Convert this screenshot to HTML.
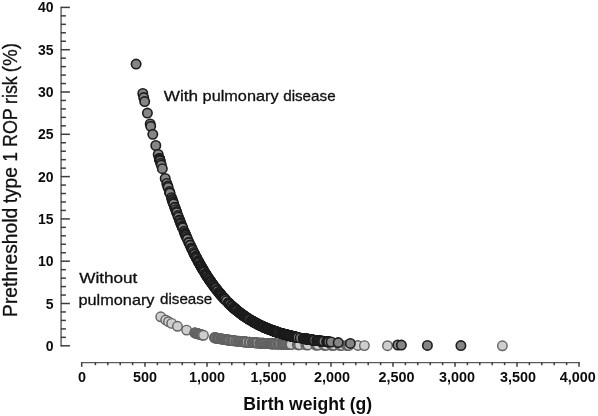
<!DOCTYPE html>
<html><head><meta charset="utf-8"><title>chart</title>
<style>
html,body{margin:0;padding:0;background:#fff;}
body{width:598px;height:416px;overflow:hidden;font-family:"Liberation Sans",sans-serif;}
svg{display:block;will-change:transform;}
text{opacity:.999;}
.ax line{stroke:#3c3c3c;stroke-width:1.5;}
.ax line.m{stroke:#5a5a5a;stroke-width:1.4;}
.tk{font:bold 14.4px "Liberation Sans",sans-serif;fill:#0c0c0c;}
.ty{font-size:14px;}
.w{fill:#858585;stroke:#1c1c1c;stroke-width:1.6;}
.o{fill:#cecece;stroke:#626262;stroke-width:1.4;}
.an{font:15px "Liberation Sans",sans-serif;fill:#101010;stroke:#101010;stroke-width:.3;}
.yt{font:20px "Liberation Sans",sans-serif;fill:#101010;stroke:#101010;stroke-width:.3;}
.xt{font:bold 17.5px "Liberation Sans",sans-serif;fill:#0c0c0c;}
</style></head><body>
<svg width="598" height="416" viewBox="0 0 598 416">
<rect width="598" height="416" fill="#fff"/>
<g class="ax">
<line class="m" x1="61.1" y1="6.7" x2="61.1" y2="346.5"/>
<line x1="60.8" y1="345.80" x2="69.9" y2="345.80"/>
<line x1="60.8" y1="337.34" x2="65.9" y2="337.34"/>
<line x1="60.8" y1="328.88" x2="65.9" y2="328.88"/>
<line x1="60.8" y1="320.42" x2="65.9" y2="320.42"/>
<line x1="60.8" y1="311.96" x2="65.9" y2="311.96"/>
<line x1="60.8" y1="303.50" x2="69.9" y2="303.50"/>
<line x1="60.8" y1="295.04" x2="65.9" y2="295.04"/>
<line x1="60.8" y1="286.58" x2="65.9" y2="286.58"/>
<line x1="60.8" y1="278.12" x2="65.9" y2="278.12"/>
<line x1="60.8" y1="269.66" x2="65.9" y2="269.66"/>
<line x1="60.8" y1="261.20" x2="69.9" y2="261.20"/>
<line x1="60.8" y1="252.74" x2="65.9" y2="252.74"/>
<line x1="60.8" y1="244.28" x2="65.9" y2="244.28"/>
<line x1="60.8" y1="235.82" x2="65.9" y2="235.82"/>
<line x1="60.8" y1="227.36" x2="65.9" y2="227.36"/>
<line x1="60.8" y1="218.90" x2="69.9" y2="218.90"/>
<line x1="60.8" y1="210.44" x2="65.9" y2="210.44"/>
<line x1="60.8" y1="201.98" x2="65.9" y2="201.98"/>
<line x1="60.8" y1="193.52" x2="65.9" y2="193.52"/>
<line x1="60.8" y1="185.06" x2="65.9" y2="185.06"/>
<line x1="60.8" y1="176.60" x2="69.9" y2="176.60"/>
<line x1="60.8" y1="168.14" x2="65.9" y2="168.14"/>
<line x1="60.8" y1="159.68" x2="65.9" y2="159.68"/>
<line x1="60.8" y1="151.22" x2="65.9" y2="151.22"/>
<line x1="60.8" y1="142.76" x2="65.9" y2="142.76"/>
<line x1="60.8" y1="134.30" x2="69.9" y2="134.30"/>
<line x1="60.8" y1="125.84" x2="65.9" y2="125.84"/>
<line x1="60.8" y1="117.38" x2="65.9" y2="117.38"/>
<line x1="60.8" y1="108.92" x2="65.9" y2="108.92"/>
<line x1="60.8" y1="100.46" x2="65.9" y2="100.46"/>
<line x1="60.8" y1="92.00" x2="69.9" y2="92.00"/>
<line x1="60.8" y1="83.54" x2="65.9" y2="83.54"/>
<line x1="60.8" y1="75.08" x2="65.9" y2="75.08"/>
<line x1="60.8" y1="66.62" x2="65.9" y2="66.62"/>
<line x1="60.8" y1="58.16" x2="65.9" y2="58.16"/>
<line x1="60.8" y1="49.70" x2="69.9" y2="49.70"/>
<line x1="60.8" y1="41.24" x2="65.9" y2="41.24"/>
<line x1="60.8" y1="32.78" x2="65.9" y2="32.78"/>
<line x1="60.8" y1="24.32" x2="65.9" y2="24.32"/>
<line x1="60.8" y1="15.86" x2="65.9" y2="15.86"/>
<line x1="60.8" y1="7.40" x2="69.9" y2="7.40"/>
<line class="m" x1="81.0" y1="362.6" x2="579.7" y2="362.6"/>
<line x1="81.70" y1="362.3" x2="81.70" y2="366.8"/>
<line x1="95.40" y1="362.3" x2="95.40" y2="365.2"/>
<line x1="107.80" y1="362.3" x2="107.80" y2="365.2"/>
<line x1="120.20" y1="362.3" x2="120.20" y2="365.2"/>
<line x1="132.60" y1="362.3" x2="132.60" y2="365.2"/>
<line x1="145.00" y1="362.3" x2="145.00" y2="366.8"/>
<line x1="157.40" y1="362.3" x2="157.40" y2="365.2"/>
<line x1="169.80" y1="362.3" x2="169.80" y2="365.2"/>
<line x1="182.20" y1="362.3" x2="182.20" y2="365.2"/>
<line x1="194.60" y1="362.3" x2="194.60" y2="365.2"/>
<line x1="207.00" y1="362.3" x2="207.00" y2="366.8"/>
<line x1="219.40" y1="362.3" x2="219.40" y2="365.2"/>
<line x1="231.80" y1="362.3" x2="231.80" y2="365.2"/>
<line x1="244.20" y1="362.3" x2="244.20" y2="365.2"/>
<line x1="256.60" y1="362.3" x2="256.60" y2="365.2"/>
<line x1="269.00" y1="362.3" x2="269.00" y2="366.8"/>
<line x1="281.40" y1="362.3" x2="281.40" y2="365.2"/>
<line x1="293.80" y1="362.3" x2="293.80" y2="365.2"/>
<line x1="306.20" y1="362.3" x2="306.20" y2="365.2"/>
<line x1="318.60" y1="362.3" x2="318.60" y2="365.2"/>
<line x1="331.00" y1="362.3" x2="331.00" y2="366.8"/>
<line x1="343.40" y1="362.3" x2="343.40" y2="365.2"/>
<line x1="355.80" y1="362.3" x2="355.80" y2="365.2"/>
<line x1="368.20" y1="362.3" x2="368.20" y2="365.2"/>
<line x1="380.60" y1="362.3" x2="380.60" y2="365.2"/>
<line x1="393.00" y1="362.3" x2="393.00" y2="366.8"/>
<line x1="405.40" y1="362.3" x2="405.40" y2="365.2"/>
<line x1="417.80" y1="362.3" x2="417.80" y2="365.2"/>
<line x1="430.20" y1="362.3" x2="430.20" y2="365.2"/>
<line x1="442.60" y1="362.3" x2="442.60" y2="365.2"/>
<line x1="455.00" y1="362.3" x2="455.00" y2="366.8"/>
<line x1="467.40" y1="362.3" x2="467.40" y2="365.2"/>
<line x1="479.80" y1="362.3" x2="479.80" y2="365.2"/>
<line x1="492.20" y1="362.3" x2="492.20" y2="365.2"/>
<line x1="504.60" y1="362.3" x2="504.60" y2="365.2"/>
<line x1="517.00" y1="362.3" x2="517.00" y2="366.8"/>
<line x1="529.40" y1="362.3" x2="529.40" y2="365.2"/>
<line x1="541.80" y1="362.3" x2="541.80" y2="365.2"/>
<line x1="554.20" y1="362.3" x2="554.20" y2="365.2"/>
<line x1="566.60" y1="362.3" x2="566.60" y2="365.2"/>
<line x1="579.00" y1="362.3" x2="579.00" y2="366.8"/>
</g>
<g>
<circle class="o" r="4.75" cx="160.7" cy="316.8"/>
<circle class="o" r="4.75" cx="165.7" cy="320.0"/>
<circle class="o" r="4.75" cx="168.5" cy="321.7"/>
<circle class="o" r="4.75" cx="171.7" cy="323.4"/>
<circle class="o" r="4.75" cx="177.5" cy="326.3"/>
<circle class="o" r="4.75" cx="186.6" cy="330.1"/>
<circle class="o" r="4.75" cx="194.7" cy="332.8"/>
<circle class="o" r="4.75" cx="195.1" cy="333.0"/>
<circle class="o" r="4.75" cx="195.7" cy="333.1"/>
<circle class="o" r="4.75" cx="196.5" cy="333.4"/>
<circle class="o" r="4.75" cx="197.1" cy="333.5"/>
<circle class="o" r="4.75" cx="197.6" cy="333.7"/>
<circle class="o" r="4.75" cx="198.3" cy="333.9"/>
<circle class="o" r="4.75" cx="198.8" cy="334.0"/>
<circle class="o" r="4.75" cx="199.5" cy="334.2"/>
<circle class="o" r="4.75" cx="199.8" cy="334.3"/>
<circle class="o" r="4.75" cx="200.6" cy="334.5"/>
<circle class="o" r="4.75" cx="201.2" cy="334.7"/>
<circle class="o" r="4.75" cx="201.8" cy="334.9"/>
<circle class="o" r="4.75" cx="202.2" cy="335.0"/>
<circle class="o" r="4.75" cx="203.5" cy="335.3"/>
<circle class="o" r="4.75" cx="214.6" cy="337.7"/>
<circle class="o" r="4.75" cx="214.8" cy="337.8"/>
<circle class="o" r="4.75" cx="214.9" cy="337.8"/>
<circle class="o" r="4.75" cx="215.0" cy="337.8"/>
<circle class="o" r="4.75" cx="215.2" cy="337.8"/>
<circle class="o" r="4.75" cx="215.5" cy="337.9"/>
<circle class="o" r="4.75" cx="216.7" cy="338.1"/>
<circle class="o" r="4.75" cx="217.1" cy="338.2"/>
<circle class="o" r="4.75" cx="217.3" cy="338.2"/>
<circle class="o" r="4.75" cx="217.7" cy="338.3"/>
<circle class="o" r="4.75" cx="218.3" cy="338.4"/>
<circle class="o" r="4.75" cx="218.6" cy="338.5"/>
<circle class="o" r="4.75" cx="219.2" cy="338.6"/>
<circle class="o" r="4.75" cx="219.2" cy="338.6"/>
<circle class="o" r="4.75" cx="219.7" cy="338.7"/>
<circle class="o" r="4.75" cx="221.1" cy="338.9"/>
<circle class="o" r="4.75" cx="221.3" cy="338.9"/>
<circle class="o" r="4.75" cx="221.4" cy="338.9"/>
<circle class="o" r="4.75" cx="222.0" cy="339.0"/>
<circle class="o" r="4.75" cx="222.7" cy="339.2"/>
<circle class="o" r="4.75" cx="223.5" cy="339.3"/>
<circle class="o" r="4.75" cx="224.1" cy="339.4"/>
<circle class="o" r="4.75" cx="225.1" cy="339.5"/>
<circle class="o" r="4.75" cx="225.9" cy="339.6"/>
<circle class="o" r="4.75" cx="226.1" cy="339.7"/>
<circle class="o" r="4.75" cx="226.5" cy="339.7"/>
<circle class="o" r="4.75" cx="226.8" cy="339.8"/>
<circle class="o" r="4.75" cx="227.8" cy="339.9"/>
<circle class="o" r="4.75" cx="228.0" cy="340.0"/>
<circle class="o" r="4.75" cx="228.4" cy="340.0"/>
<circle class="o" r="4.75" cx="228.9" cy="340.1"/>
<circle class="o" r="4.75" cx="228.9" cy="340.1"/>
<circle class="o" r="4.75" cx="229.3" cy="340.1"/>
<circle class="o" r="4.75" cx="229.5" cy="340.2"/>
<circle class="o" r="4.75" cx="230.6" cy="340.3"/>
<circle class="o" r="4.75" cx="231.7" cy="340.5"/>
<circle class="o" r="4.75" cx="232.3" cy="340.5"/>
<circle class="o" r="4.75" cx="232.7" cy="340.6"/>
<circle class="o" r="4.75" cx="233.2" cy="340.6"/>
<circle class="o" r="4.75" cx="233.6" cy="340.7"/>
<circle class="o" r="4.75" cx="233.7" cy="340.7"/>
<circle class="o" r="4.75" cx="233.8" cy="340.7"/>
<circle class="o" r="4.75" cx="235.7" cy="340.9"/>
<circle class="o" r="4.75" cx="235.9" cy="341.0"/>
<circle class="o" r="4.75" cx="236.7" cy="341.1"/>
<circle class="o" r="4.75" cx="238.1" cy="341.2"/>
<circle class="o" r="4.75" cx="239.0" cy="341.3"/>
<circle class="o" r="4.75" cx="239.9" cy="341.4"/>
<circle class="o" r="4.75" cx="240.2" cy="341.4"/>
<circle class="o" r="4.75" cx="241.3" cy="341.6"/>
<circle class="o" r="4.75" cx="242.0" cy="341.6"/>
<circle class="o" r="4.75" cx="242.8" cy="341.7"/>
<circle class="o" r="4.75" cx="243.9" cy="341.8"/>
<circle class="o" r="4.75" cx="243.9" cy="341.8"/>
<circle class="o" r="4.75" cx="244.8" cy="341.9"/>
<circle class="o" r="4.75" cx="244.9" cy="341.9"/>
<circle class="o" r="4.75" cx="245.0" cy="341.9"/>
<circle class="o" r="4.75" cx="245.1" cy="341.9"/>
<circle class="o" r="4.75" cx="245.1" cy="341.9"/>
<circle class="o" r="4.75" cx="245.1" cy="341.9"/>
<circle class="o" r="4.75" cx="246.3" cy="342.0"/>
<circle class="o" r="4.75" cx="246.4" cy="342.0"/>
<circle class="o" r="4.75" cx="247.0" cy="342.1"/>
<circle class="o" r="4.75" cx="248.9" cy="342.3"/>
<circle class="o" r="4.75" cx="249.5" cy="342.3"/>
<circle class="o" r="4.75" cx="249.9" cy="342.3"/>
<circle class="o" r="4.75" cx="250.0" cy="342.4"/>
<circle class="o" r="4.75" cx="250.2" cy="342.4"/>
<circle class="o" r="4.75" cx="252.1" cy="342.5"/>
<circle class="o" r="4.75" cx="252.6" cy="342.6"/>
<circle class="o" r="4.75" cx="252.7" cy="342.6"/>
<circle class="o" r="4.75" cx="252.8" cy="342.6"/>
<circle class="o" r="4.75" cx="253.0" cy="342.6"/>
<circle class="o" r="4.75" cx="253.4" cy="342.6"/>
<circle class="o" r="4.75" cx="253.6" cy="342.6"/>
<circle class="o" r="4.75" cx="253.6" cy="342.6"/>
<circle class="o" r="4.75" cx="254.5" cy="342.7"/>
<circle class="o" r="4.75" cx="255.0" cy="342.7"/>
<circle class="o" r="4.75" cx="256.3" cy="342.8"/>
<circle class="o" r="4.75" cx="256.4" cy="342.8"/>
<circle class="o" r="4.75" cx="257.1" cy="342.9"/>
<circle class="o" r="4.75" cx="257.7" cy="342.9"/>
<circle class="o" r="4.75" cx="257.7" cy="342.9"/>
<circle class="o" r="4.75" cx="257.8" cy="342.9"/>
<circle class="o" r="4.75" cx="259.9" cy="343.1"/>
<circle class="o" r="4.75" cx="260.0" cy="343.1"/>
<circle class="o" r="4.75" cx="260.1" cy="343.1"/>
<circle class="o" r="4.75" cx="260.2" cy="343.1"/>
<circle class="o" r="4.75" cx="261.0" cy="343.2"/>
<circle class="o" r="4.75" cx="261.3" cy="343.2"/>
<circle class="o" r="4.75" cx="262.0" cy="343.2"/>
<circle class="o" r="4.75" cx="262.4" cy="343.2"/>
<circle class="o" r="4.75" cx="263.1" cy="343.3"/>
<circle class="o" r="4.75" cx="263.1" cy="343.3"/>
<circle class="o" r="4.75" cx="263.4" cy="343.3"/>
<circle class="o" r="4.75" cx="264.4" cy="343.4"/>
<circle class="o" r="4.75" cx="264.8" cy="343.4"/>
<circle class="o" r="4.75" cx="265.2" cy="343.4"/>
<circle class="o" r="4.75" cx="266.5" cy="343.5"/>
<circle class="o" r="4.75" cx="266.7" cy="343.5"/>
<circle class="o" r="4.75" cx="266.8" cy="343.5"/>
<circle class="o" r="4.75" cx="267.5" cy="343.5"/>
<circle class="o" r="4.75" cx="267.9" cy="343.6"/>
<circle class="o" r="4.75" cx="268.0" cy="343.6"/>
<circle class="o" r="4.75" cx="268.2" cy="343.6"/>
<circle class="o" r="4.75" cx="269.1" cy="343.6"/>
<circle class="o" r="4.75" cx="269.6" cy="343.7"/>
<circle class="o" r="4.75" cx="269.9" cy="343.7"/>
<circle class="o" r="4.75" cx="270.9" cy="343.7"/>
<circle class="o" r="4.75" cx="270.9" cy="343.7"/>
<circle class="o" r="4.75" cx="271.3" cy="343.7"/>
<circle class="o" r="4.75" cx="272.1" cy="343.8"/>
<circle class="o" r="4.75" cx="272.4" cy="343.8"/>
<circle class="o" r="4.75" cx="272.4" cy="343.8"/>
<circle class="o" r="4.75" cx="272.6" cy="343.8"/>
<circle class="o" r="4.75" cx="272.9" cy="343.8"/>
<circle class="o" r="4.75" cx="272.9" cy="343.8"/>
<circle class="o" r="4.75" cx="273.1" cy="343.8"/>
<circle class="o" r="4.75" cx="273.9" cy="343.9"/>
<circle class="o" r="4.75" cx="274.8" cy="343.9"/>
<circle class="o" r="4.75" cx="275.7" cy="343.9"/>
<circle class="o" r="4.75" cx="276.0" cy="344.0"/>
<circle class="o" r="4.75" cx="276.3" cy="344.0"/>
<circle class="o" r="4.75" cx="276.7" cy="344.0"/>
<circle class="o" r="4.75" cx="278.1" cy="344.1"/>
<circle class="o" r="4.75" cx="278.7" cy="344.1"/>
<circle class="o" r="4.75" cx="279.0" cy="344.1"/>
<circle class="o" r="4.75" cx="280.3" cy="344.1"/>
<circle class="o" r="4.75" cx="281.8" cy="344.2"/>
<circle class="o" r="4.75" cx="282.3" cy="344.2"/>
<circle class="o" r="4.75" cx="282.8" cy="344.2"/>
<circle class="o" r="4.75" cx="283.0" cy="344.2"/>
<circle class="o" r="4.75" cx="283.1" cy="344.3"/>
<circle class="o" r="4.75" cx="283.7" cy="344.3"/>
<circle class="o" r="4.75" cx="284.2" cy="344.3"/>
<circle class="o" r="4.75" cx="284.2" cy="344.3"/>
<circle class="o" r="4.75" cx="285.1" cy="344.3"/>
<circle class="o" r="4.75" cx="285.4" cy="344.3"/>
<circle class="o" r="4.75" cx="285.6" cy="344.3"/>
<circle class="o" r="4.75" cx="286.8" cy="344.4"/>
<circle class="o" r="4.75" cx="286.8" cy="344.4"/>
<circle class="o" r="4.75" cx="287.3" cy="344.4"/>
<circle class="o" r="4.75" cx="288.5" cy="344.4"/>
<circle class="o" r="4.75" cx="288.6" cy="344.4"/>
<circle class="o" r="4.75" cx="289.5" cy="344.5"/>
<circle class="o" r="4.75" cx="289.7" cy="344.5"/>
<circle class="o" r="4.75" cx="290.3" cy="344.5"/>
<circle class="o" r="4.75" cx="290.7" cy="344.5"/>
<circle class="o" r="4.75" cx="290.9" cy="344.5"/>
<circle class="o" r="4.75" cx="291.0" cy="344.5"/>
<circle class="o" r="4.75" cx="291.0" cy="344.5"/>
<circle class="o" r="4.75" cx="297.3" cy="344.7"/>
<circle class="o" r="4.75" cx="298.4" cy="344.7"/>
<circle class="o" r="4.75" cx="299.5" cy="344.8"/>
<circle class="o" r="4.75" cx="305.8" cy="344.9"/>
<circle class="o" r="4.75" cx="306.9" cy="344.9"/>
<circle class="o" r="4.75" cx="308.0" cy="345.0"/>
<circle class="o" r="4.75" cx="315.8" cy="345.1"/>
<circle class="o" r="4.75" cx="316.9" cy="345.1"/>
<circle class="o" r="4.75" cx="318.0" cy="345.1"/>
<circle class="o" r="4.75" cx="323.8" cy="345.2"/>
<circle class="o" r="4.75" cx="324.9" cy="345.2"/>
<circle class="o" r="4.75" cx="326.0" cy="345.3"/>
<circle class="o" r="4.75" cx="331.8" cy="345.3"/>
<circle class="o" r="4.75" cx="332.9" cy="345.3"/>
<circle class="o" r="4.75" cx="334.0" cy="345.3"/>
<circle class="o" r="4.75" cx="339.8" cy="345.4"/>
<circle class="o" r="4.75" cx="340.9" cy="345.4"/>
<circle class="o" r="4.75" cx="342.0" cy="345.4"/>
<circle class="o" r="4.75" cx="346.8" cy="345.5"/>
<circle class="o" r="4.75" cx="347.9" cy="345.5"/>
<circle class="o" r="4.75" cx="349.0" cy="345.5"/>
<circle class="o" r="4.75" cx="357.9" cy="345.5"/>
<circle class="o" r="4.75" cx="364.4" cy="345.6"/>
<circle class="o" r="4.75" cx="387.5" cy="345.7"/>
<circle class="o" r="4.75" cx="502.4" cy="345.8"/>
<circle class="w" r="4.7" cx="136.1" cy="64.1"/>
<circle class="w" r="4.7" cx="142.8" cy="93.5"/>
<circle class="w" r="4.7" cx="143.7" cy="97.6"/>
<circle class="w" r="4.7" cx="144.7" cy="101.6"/>
<circle class="w" r="4.7" cx="147.4" cy="113.1"/>
<circle class="w" r="4.7" cx="150.2" cy="124.0"/>
<circle class="w" r="4.7" cx="150.7" cy="126.3"/>
<circle class="w" r="4.7" cx="152.8" cy="134.3"/>
<circle class="w" r="4.7" cx="155.8" cy="145.5"/>
<circle class="w" r="4.7" cx="158.2" cy="154.5"/>
<circle class="w" r="4.7" cx="159.3" cy="158.4"/>
<circle class="w" r="4.7" cx="159.4" cy="158.6"/>
<circle class="w" r="4.7" cx="159.6" cy="159.2"/>
<circle class="w" r="4.7" cx="159.6" cy="159.2"/>
<circle class="w" r="4.7" cx="159.8" cy="159.9"/>
<circle class="w" r="4.7" cx="159.9" cy="160.3"/>
<circle class="w" r="4.7" cx="160.1" cy="160.9"/>
<circle class="w" r="4.7" cx="160.7" cy="163.3"/>
<circle class="w" r="4.7" cx="161.3" cy="165.1"/>
<circle class="w" r="4.7" cx="162.3" cy="168.7"/>
<circle class="w" r="4.7" cx="165.2" cy="178.4"/>
<circle class="w" r="4.7" cx="166.8" cy="183.5"/>
<circle class="w" r="4.7" cx="167.7" cy="186.1"/>
<circle class="w" r="4.7" cx="168.1" cy="187.4"/>
<circle class="w" r="4.7" cx="169.4" cy="191.5"/>
<circle class="w" r="4.7" cx="169.9" cy="193.0"/>
<circle class="w" r="4.7" cx="169.9" cy="193.1"/>
<circle class="w" r="4.7" cx="171.5" cy="197.7"/>
<circle class="w" r="4.7" cx="172.1" cy="199.5"/>
<circle class="w" r="4.7" cx="172.4" cy="200.4"/>
<circle class="w" r="4.7" cx="173.0" cy="202.1"/>
<circle class="w" r="4.7" cx="173.1" cy="202.6"/>
<circle class="w" r="4.7" cx="173.6" cy="204.0"/>
<circle class="w" r="4.7" cx="174.8" cy="207.2"/>
<circle class="w" r="4.7" cx="174.9" cy="207.6"/>
<circle class="w" r="4.7" cx="175.7" cy="209.7"/>
<circle class="w" r="4.7" cx="176.4" cy="211.6"/>
<circle class="w" r="4.7" cx="176.8" cy="212.7"/>
<circle class="w" r="4.7" cx="177.8" cy="215.6"/>
<circle class="w" r="4.7" cx="178.4" cy="217.2"/>
<circle class="w" r="4.7" cx="179.5" cy="219.9"/>
<circle class="w" r="4.7" cx="179.8" cy="220.6"/>
<circle class="w" r="4.7" cx="180.5" cy="222.6"/>
<circle class="w" r="4.7" cx="181.0" cy="223.8"/>
<circle class="w" r="4.7" cx="181.8" cy="225.8"/>
<circle class="w" r="4.7" cx="182.2" cy="226.8"/>
<circle class="w" r="4.7" cx="182.7" cy="227.9"/>
<circle class="w" r="4.7" cx="184.0" cy="231.2"/>
<circle class="w" r="4.7" cx="184.6" cy="232.7"/>
<circle class="w" r="4.7" cx="185.1" cy="233.8"/>
<circle class="w" r="4.7" cx="185.6" cy="234.9"/>
<circle class="w" r="4.7" cx="185.8" cy="235.5"/>
<circle class="w" r="4.7" cx="186.4" cy="236.7"/>
<circle class="w" r="4.7" cx="187.0" cy="238.3"/>
<circle class="w" r="4.7" cx="187.4" cy="239.2"/>
<circle class="w" r="4.7" cx="188.8" cy="242.2"/>
<circle class="w" r="4.7" cx="189.0" cy="242.7"/>
<circle class="w" r="4.7" cx="190.1" cy="245.1"/>
<circle class="w" r="4.7" cx="190.3" cy="245.4"/>
<circle class="w" r="4.7" cx="191.5" cy="247.9"/>
<circle class="w" r="4.7" cx="191.8" cy="248.6"/>
<circle class="w" r="4.7" cx="192.0" cy="249.0"/>
<circle class="w" r="4.7" cx="192.6" cy="250.3"/>
<circle class="w" r="4.7" cx="193.8" cy="252.7"/>
<circle class="w" r="4.7" cx="193.8" cy="252.7"/>
<circle class="w" r="4.7" cx="194.5" cy="254.2"/>
<circle class="w" r="4.7" cx="194.6" cy="254.4"/>
<circle class="w" r="4.7" cx="194.7" cy="254.5"/>
<circle class="w" r="4.7" cx="195.6" cy="256.3"/>
<circle class="w" r="4.7" cx="196.1" cy="257.2"/>
<circle class="w" r="4.7" cx="196.2" cy="257.4"/>
<circle class="w" r="4.7" cx="196.3" cy="257.6"/>
<circle class="w" r="4.7" cx="197.0" cy="258.9"/>
<circle class="w" r="4.7" cx="198.0" cy="260.8"/>
<circle class="w" r="4.7" cx="198.0" cy="260.8"/>
<circle class="w" r="4.7" cx="198.2" cy="261.2"/>
<circle class="w" r="4.7" cx="198.5" cy="261.8"/>
<circle class="w" r="4.7" cx="198.8" cy="262.3"/>
<circle class="w" r="4.7" cx="199.2" cy="263.0"/>
<circle class="w" r="4.7" cx="200.1" cy="264.6"/>
<circle class="w" r="4.7" cx="200.3" cy="265.0"/>
<circle class="w" r="4.7" cx="200.9" cy="266.0"/>
<circle class="w" r="4.7" cx="201.2" cy="266.6"/>
<circle class="w" r="4.7" cx="201.4" cy="266.8"/>
<circle class="w" r="4.7" cx="202.1" cy="268.2"/>
<circle class="w" r="4.7" cx="202.3" cy="268.5"/>
<circle class="w" r="4.7" cx="202.9" cy="269.5"/>
<circle class="w" r="4.7" cx="203.1" cy="269.7"/>
<circle class="w" r="4.7" cx="203.7" cy="270.7"/>
<circle class="w" r="4.7" cx="203.9" cy="271.1"/>
<circle class="w" r="4.7" cx="204.3" cy="271.8"/>
<circle class="w" r="4.7" cx="205.4" cy="273.6"/>
<circle class="w" r="4.7" cx="205.6" cy="273.9"/>
<circle class="w" r="4.7" cx="205.7" cy="274.0"/>
<circle class="w" r="4.7" cx="206.3" cy="275.1"/>
<circle class="w" r="4.7" cx="206.6" cy="275.5"/>
<circle class="w" r="4.7" cx="206.9" cy="276.0"/>
<circle class="w" r="4.7" cx="207.8" cy="277.3"/>
<circle class="w" r="4.7" cx="207.9" cy="277.4"/>
<circle class="w" r="4.7" cx="208.0" cy="277.6"/>
<circle class="w" r="4.7" cx="208.8" cy="278.8"/>
<circle class="w" r="4.7" cx="209.2" cy="279.4"/>
<circle class="w" r="4.7" cx="209.3" cy="279.5"/>
<circle class="w" r="4.7" cx="210.2" cy="280.8"/>
<circle class="w" r="4.7" cx="210.2" cy="280.9"/>
<circle class="w" r="4.7" cx="210.6" cy="281.4"/>
<circle class="w" r="4.7" cx="210.8" cy="281.7"/>
<circle class="w" r="4.7" cx="211.2" cy="282.3"/>
<circle class="w" r="4.7" cx="212.1" cy="283.6"/>
<circle class="w" r="4.7" cx="212.2" cy="283.7"/>
<circle class="w" r="4.7" cx="212.9" cy="284.7"/>
<circle class="w" r="4.7" cx="213.1" cy="285.0"/>
<circle class="w" r="4.7" cx="213.6" cy="285.6"/>
<circle class="w" r="4.7" cx="214.5" cy="286.8"/>
<circle class="w" r="4.7" cx="214.5" cy="286.9"/>
<circle class="w" r="4.7" cx="215.0" cy="287.5"/>
<circle class="w" r="4.7" cx="215.4" cy="288.0"/>
<circle class="w" r="4.7" cx="215.7" cy="288.4"/>
<circle class="w" r="4.7" cx="215.8" cy="288.5"/>
<circle class="w" r="4.7" cx="217.0" cy="290.0"/>
<circle class="w" r="4.7" cx="217.1" cy="290.2"/>
<circle class="w" r="4.7" cx="217.3" cy="290.4"/>
<circle class="w" r="4.7" cx="217.5" cy="290.7"/>
<circle class="w" r="4.7" cx="218.9" cy="292.4"/>
<circle class="w" r="4.7" cx="218.9" cy="292.4"/>
<circle class="w" r="4.7" cx="219.3" cy="292.9"/>
<circle class="w" r="4.7" cx="219.4" cy="293.1"/>
<circle class="w" r="4.7" cx="219.5" cy="293.2"/>
<circle class="w" r="4.7" cx="219.7" cy="293.4"/>
<circle class="w" r="4.7" cx="220.0" cy="293.7"/>
<circle class="w" r="4.7" cx="220.3" cy="294.1"/>
<circle class="w" r="4.7" cx="220.4" cy="294.2"/>
<circle class="w" r="4.7" cx="220.5" cy="294.3"/>
<circle class="w" r="4.7" cx="220.8" cy="294.7"/>
<circle class="w" r="4.7" cx="221.1" cy="295.0"/>
<circle class="w" r="4.7" cx="221.3" cy="295.3"/>
<circle class="w" r="4.7" cx="221.8" cy="295.8"/>
<circle class="w" r="4.7" cx="222.8" cy="297.0"/>
<circle class="w" r="4.7" cx="223.1" cy="297.3"/>
<circle class="w" r="4.7" cx="223.5" cy="297.7"/>
<circle class="w" r="4.7" cx="224.0" cy="298.2"/>
<circle class="w" r="4.7" cx="224.0" cy="298.3"/>
<circle class="w" r="4.7" cx="224.4" cy="298.7"/>
<circle class="w" r="4.7" cx="224.6" cy="298.9"/>
<circle class="w" r="4.7" cx="224.7" cy="299.0"/>
<circle class="w" r="4.7" cx="224.9" cy="299.2"/>
<circle class="w" r="4.7" cx="225.0" cy="299.3"/>
<circle class="w" r="4.7" cx="226.3" cy="300.7"/>
<circle class="w" r="4.7" cx="228.4" cy="302.8"/>
<circle class="w" r="4.7" cx="228.5" cy="302.9"/>
<circle class="w" r="4.7" cx="228.9" cy="303.3"/>
<circle class="w" r="4.7" cx="228.9" cy="303.3"/>
<circle class="w" r="4.7" cx="229.2" cy="303.6"/>
<circle class="w" r="4.7" cx="229.2" cy="303.6"/>
<circle class="w" r="4.7" cx="229.3" cy="303.7"/>
<circle class="w" r="4.7" cx="229.9" cy="304.3"/>
<circle class="w" r="4.7" cx="231.5" cy="305.8"/>
<circle class="w" r="4.7" cx="231.6" cy="305.8"/>
<circle class="w" r="4.7" cx="231.8" cy="306.1"/>
<circle class="w" r="4.7" cx="232.0" cy="306.3"/>
<circle class="w" r="4.7" cx="232.1" cy="306.3"/>
<circle class="w" r="4.7" cx="232.3" cy="306.5"/>
<circle class="w" r="4.7" cx="232.3" cy="306.5"/>
<circle class="w" r="4.7" cx="233.7" cy="307.8"/>
<circle class="w" r="4.7" cx="233.9" cy="307.9"/>
<circle class="w" r="4.7" cx="233.9" cy="308.0"/>
<circle class="w" r="4.7" cx="234.1" cy="308.1"/>
<circle class="w" r="4.7" cx="234.2" cy="308.2"/>
<circle class="w" r="4.7" cx="234.3" cy="308.3"/>
<circle class="w" r="4.7" cx="234.4" cy="308.4"/>
<circle class="w" r="4.7" cx="234.7" cy="308.6"/>
<circle class="w" r="4.7" cx="235.1" cy="308.9"/>
<circle class="w" r="4.7" cx="235.1" cy="309.0"/>
<circle class="w" r="4.7" cx="235.7" cy="309.5"/>
<circle class="w" r="4.7" cx="236.3" cy="310.0"/>
<circle class="w" r="4.7" cx="236.4" cy="310.1"/>
<circle class="w" r="4.7" cx="237.0" cy="310.5"/>
<circle class="w" r="4.7" cx="237.1" cy="310.6"/>
<circle class="w" r="4.7" cx="238.5" cy="311.7"/>
<circle class="w" r="4.7" cx="238.6" cy="311.8"/>
<circle class="w" r="4.7" cx="239.5" cy="312.6"/>
<circle class="w" r="4.7" cx="239.8" cy="312.8"/>
<circle class="w" r="4.7" cx="240.0" cy="312.9"/>
<circle class="w" r="4.7" cx="240.1" cy="313.0"/>
<circle class="w" r="4.7" cx="240.4" cy="313.2"/>
<circle class="w" r="4.7" cx="241.2" cy="313.8"/>
<circle class="w" r="4.7" cx="241.5" cy="314.0"/>
<circle class="w" r="4.7" cx="242.1" cy="314.5"/>
<circle class="w" r="4.7" cx="242.7" cy="314.9"/>
<circle class="w" r="4.7" cx="242.9" cy="315.1"/>
<circle class="w" r="4.7" cx="243.2" cy="315.3"/>
<circle class="w" r="4.7" cx="243.3" cy="315.4"/>
<circle class="w" r="4.7" cx="243.5" cy="315.5"/>
<circle class="w" r="4.7" cx="243.6" cy="315.6"/>
<circle class="w" r="4.7" cx="244.2" cy="316.0"/>
<circle class="w" r="4.7" cx="244.8" cy="316.4"/>
<circle class="w" r="4.7" cx="245.7" cy="317.0"/>
<circle class="w" r="4.7" cx="245.9" cy="317.1"/>
<circle class="w" r="4.7" cx="246.1" cy="317.3"/>
<circle class="w" r="4.7" cx="247.0" cy="317.9"/>
<circle class="w" r="4.7" cx="247.5" cy="318.2"/>
<circle class="w" r="4.7" cx="248.1" cy="318.6"/>
<circle class="w" r="4.7" cx="248.5" cy="318.8"/>
<circle class="w" r="4.7" cx="248.6" cy="318.9"/>
<circle class="w" r="4.7" cx="248.7" cy="319.0"/>
<circle class="w" r="4.7" cx="249.1" cy="319.2"/>
<circle class="w" r="4.7" cx="249.5" cy="319.5"/>
<circle class="w" r="4.7" cx="251.1" cy="320.4"/>
<circle class="w" r="4.7" cx="251.4" cy="320.6"/>
<circle class="w" r="4.7" cx="251.7" cy="320.8"/>
<circle class="w" r="4.7" cx="252.5" cy="321.2"/>
<circle class="w" r="4.7" cx="253.2" cy="321.7"/>
<circle class="w" r="4.7" cx="253.3" cy="321.7"/>
<circle class="w" r="4.7" cx="253.3" cy="321.7"/>
<circle class="w" r="4.7" cx="253.6" cy="321.9"/>
<circle class="w" r="4.7" cx="253.7" cy="321.9"/>
<circle class="w" r="4.7" cx="254.0" cy="322.1"/>
<circle class="w" r="4.7" cx="254.2" cy="322.2"/>
<circle class="w" r="4.7" cx="254.3" cy="322.3"/>
<circle class="w" r="4.7" cx="254.4" cy="322.3"/>
<circle class="w" r="4.7" cx="255.1" cy="322.7"/>
<circle class="w" r="4.7" cx="255.8" cy="323.1"/>
<circle class="w" r="4.7" cx="256.0" cy="323.2"/>
<circle class="w" r="4.7" cx="256.5" cy="323.4"/>
<circle class="w" r="4.7" cx="256.6" cy="323.5"/>
<circle class="w" r="4.7" cx="257.0" cy="323.7"/>
<circle class="w" r="4.7" cx="257.4" cy="323.9"/>
<circle class="w" r="4.7" cx="257.5" cy="324.0"/>
<circle class="w" r="4.7" cx="257.7" cy="324.1"/>
<circle class="w" r="4.7" cx="257.8" cy="324.1"/>
<circle class="w" r="4.7" cx="258.2" cy="324.4"/>
<circle class="w" r="4.7" cx="259.3" cy="324.9"/>
<circle class="w" r="4.7" cx="259.6" cy="325.0"/>
<circle class="w" r="4.7" cx="259.8" cy="325.1"/>
<circle class="w" r="4.7" cx="259.9" cy="325.2"/>
<circle class="w" r="4.7" cx="260.1" cy="325.3"/>
<circle class="w" r="4.7" cx="260.9" cy="325.6"/>
<circle class="w" r="4.7" cx="260.9" cy="325.7"/>
<circle class="w" r="4.7" cx="261.7" cy="326.0"/>
<circle class="w" r="4.7" cx="262.0" cy="326.2"/>
<circle class="w" r="4.7" cx="262.7" cy="326.5"/>
<circle class="w" r="4.7" cx="262.8" cy="326.5"/>
<circle class="w" r="4.7" cx="263.5" cy="326.9"/>
<circle class="w" r="4.7" cx="263.6" cy="326.9"/>
<circle class="w" r="4.7" cx="263.8" cy="327.0"/>
<circle class="w" r="4.7" cx="263.8" cy="327.0"/>
<circle class="w" r="4.7" cx="263.8" cy="327.0"/>
<circle class="w" r="4.7" cx="264.5" cy="327.3"/>
<circle class="w" r="4.7" cx="264.6" cy="327.4"/>
<circle class="w" r="4.7" cx="264.6" cy="327.4"/>
<circle class="w" r="4.7" cx="264.7" cy="327.4"/>
<circle class="w" r="4.7" cx="265.7" cy="327.8"/>
<circle class="w" r="4.7" cx="266.1" cy="328.0"/>
<circle class="w" r="4.7" cx="266.3" cy="328.1"/>
<circle class="w" r="4.7" cx="266.7" cy="328.2"/>
<circle class="w" r="4.7" cx="267.1" cy="328.4"/>
<circle class="w" r="4.7" cx="267.1" cy="328.4"/>
<circle class="w" r="4.7" cx="267.1" cy="328.4"/>
<circle class="w" r="4.7" cx="268.0" cy="328.8"/>
<circle class="w" r="4.7" cx="268.0" cy="328.8"/>
<circle class="w" r="4.7" cx="268.0" cy="328.8"/>
<circle class="w" r="4.7" cx="268.3" cy="328.9"/>
<circle class="w" r="4.7" cx="268.4" cy="328.9"/>
<circle class="w" r="4.7" cx="268.9" cy="329.1"/>
<circle class="w" r="4.7" cx="269.1" cy="329.2"/>
<circle class="w" r="4.7" cx="269.1" cy="329.2"/>
<circle class="w" r="4.7" cx="269.3" cy="329.3"/>
<circle class="w" r="4.7" cx="270.1" cy="329.6"/>
<circle class="w" r="4.7" cx="270.4" cy="329.7"/>
<circle class="w" r="4.7" cx="270.5" cy="329.8"/>
<circle class="w" r="4.7" cx="270.8" cy="329.9"/>
<circle class="w" r="4.7" cx="271.3" cy="330.0"/>
<circle class="w" r="4.7" cx="272.2" cy="330.4"/>
<circle class="w" r="4.7" cx="272.7" cy="330.6"/>
<circle class="w" r="4.7" cx="272.8" cy="330.6"/>
<circle class="w" r="4.7" cx="273.1" cy="330.7"/>
<circle class="w" r="4.7" cx="273.3" cy="330.8"/>
<circle class="w" r="4.7" cx="273.8" cy="331.0"/>
<circle class="w" r="4.7" cx="273.9" cy="331.0"/>
<circle class="w" r="4.7" cx="274.1" cy="331.1"/>
<circle class="w" r="4.7" cx="274.3" cy="331.1"/>
<circle class="w" r="4.7" cx="274.4" cy="331.2"/>
<circle class="w" r="4.7" cx="274.7" cy="331.3"/>
<circle class="w" r="4.7" cx="274.9" cy="331.3"/>
<circle class="w" r="4.7" cx="275.1" cy="331.4"/>
<circle class="w" r="4.7" cx="275.4" cy="331.5"/>
<circle class="w" r="4.7" cx="275.6" cy="331.6"/>
<circle class="w" r="4.7" cx="275.7" cy="331.6"/>
<circle class="w" r="4.7" cx="275.8" cy="331.6"/>
<circle class="w" r="4.7" cx="275.9" cy="331.7"/>
<circle class="w" r="4.7" cx="276.2" cy="331.8"/>
<circle class="w" r="4.7" cx="276.3" cy="331.8"/>
<circle class="w" r="4.7" cx="276.4" cy="331.9"/>
<circle class="w" r="4.7" cx="276.8" cy="332.0"/>
<circle class="w" r="4.7" cx="276.9" cy="332.0"/>
<circle class="w" r="4.7" cx="277.0" cy="332.0"/>
<circle class="w" r="4.7" cx="277.1" cy="332.1"/>
<circle class="w" r="4.7" cx="278.0" cy="332.4"/>
<circle class="w" r="4.7" cx="278.5" cy="332.5"/>
<circle class="w" r="4.7" cx="279.4" cy="332.8"/>
<circle class="w" r="4.7" cx="281.0" cy="333.3"/>
<circle class="w" r="4.7" cx="281.2" cy="333.4"/>
<circle class="w" r="4.7" cx="281.2" cy="333.4"/>
<circle class="w" r="4.7" cx="281.3" cy="333.4"/>
<circle class="w" r="4.7" cx="281.3" cy="333.4"/>
<circle class="w" r="4.7" cx="281.4" cy="333.4"/>
<circle class="w" r="4.7" cx="281.7" cy="333.5"/>
<circle class="w" r="4.7" cx="282.0" cy="333.6"/>
<circle class="w" r="4.7" cx="282.5" cy="333.7"/>
<circle class="w" r="4.7" cx="282.6" cy="333.8"/>
<circle class="w" r="4.7" cx="282.7" cy="333.8"/>
<circle class="w" r="4.7" cx="283.5" cy="334.0"/>
<circle class="w" r="4.7" cx="283.9" cy="334.1"/>
<circle class="w" r="4.7" cx="284.4" cy="334.3"/>
<circle class="w" r="4.7" cx="285.0" cy="334.4"/>
<circle class="w" r="4.7" cx="285.1" cy="334.5"/>
<circle class="w" r="4.7" cx="285.1" cy="334.5"/>
<circle class="w" r="4.7" cx="285.2" cy="334.5"/>
<circle class="w" r="4.7" cx="285.5" cy="334.6"/>
<circle class="w" r="4.7" cx="285.6" cy="334.6"/>
<circle class="w" r="4.7" cx="285.9" cy="334.7"/>
<circle class="w" r="4.7" cx="286.0" cy="334.7"/>
<circle class="w" r="4.7" cx="286.2" cy="334.8"/>
<circle class="w" r="4.7" cx="286.4" cy="334.8"/>
<circle class="w" r="4.7" cx="287.1" cy="335.0"/>
<circle class="w" r="4.7" cx="287.7" cy="335.1"/>
<circle class="w" r="4.7" cx="287.8" cy="335.2"/>
<circle class="w" r="4.7" cx="288.3" cy="335.3"/>
<circle class="w" r="4.7" cx="288.4" cy="335.3"/>
<circle class="w" r="4.7" cx="288.4" cy="335.3"/>
<circle class="w" r="4.7" cx="288.6" cy="335.4"/>
<circle class="w" r="4.7" cx="289.3" cy="335.5"/>
<circle class="w" r="4.7" cx="289.3" cy="335.6"/>
<circle class="w" r="4.7" cx="290.0" cy="335.7"/>
<circle class="w" r="4.7" cx="290.0" cy="335.7"/>
<circle class="w" r="4.7" cx="290.0" cy="335.7"/>
<circle class="w" r="4.7" cx="290.0" cy="335.7"/>
<circle class="w" r="4.7" cx="290.4" cy="335.8"/>
<circle class="w" r="4.7" cx="290.5" cy="335.8"/>
<circle class="w" r="4.7" cx="290.8" cy="335.9"/>
<circle class="w" r="4.7" cx="290.8" cy="335.9"/>
<circle class="w" r="4.7" cx="290.8" cy="335.9"/>
<circle class="w" r="4.7" cx="291.1" cy="336.0"/>
<circle class="w" r="4.7" cx="291.2" cy="336.0"/>
<circle class="w" r="4.7" cx="291.4" cy="336.0"/>
<circle class="w" r="4.7" cx="291.6" cy="336.1"/>
<circle class="w" r="4.7" cx="292.6" cy="336.3"/>
<circle class="w" r="4.7" cx="293.2" cy="336.5"/>
<circle class="w" r="4.7" cx="293.5" cy="336.5"/>
<circle class="w" r="4.7" cx="293.6" cy="336.6"/>
<circle class="w" r="4.7" cx="293.9" cy="336.6"/>
<circle class="w" r="4.7" cx="294.0" cy="336.6"/>
<circle class="w" r="4.7" cx="294.0" cy="336.6"/>
<circle class="w" r="4.7" cx="294.7" cy="336.8"/>
<circle class="w" r="4.7" cx="295.0" cy="336.9"/>
<circle class="w" r="4.7" cx="295.0" cy="336.9"/>
<circle class="w" r="4.7" cx="295.5" cy="337.0"/>
<circle class="w" r="4.7" cx="296.2" cy="337.1"/>
<circle class="w" r="4.7" cx="296.4" cy="337.2"/>
<circle class="w" r="4.7" cx="296.4" cy="337.2"/>
<circle class="w" r="4.7" cx="296.5" cy="337.2"/>
<circle class="w" r="4.7" cx="297.4" cy="337.4"/>
<circle class="w" r="4.7" cx="297.9" cy="337.5"/>
<circle class="w" r="4.7" cx="300.2" cy="337.9"/>
<circle class="w" r="4.7" cx="303.2" cy="338.5"/>
<circle class="w" r="4.7" cx="303.6" cy="338.5"/>
<circle class="w" r="4.7" cx="304.3" cy="338.6"/>
<circle class="w" r="4.7" cx="305.0" cy="338.8"/>
<circle class="w" r="4.7" cx="305.8" cy="338.9"/>
<circle class="w" r="4.7" cx="306.3" cy="339.0"/>
<circle class="w" r="4.7" cx="307.2" cy="339.1"/>
<circle class="w" r="4.7" cx="307.3" cy="339.1"/>
<circle class="w" r="4.7" cx="307.5" cy="339.2"/>
<circle class="w" r="4.7" cx="307.9" cy="339.2"/>
<circle class="w" r="4.7" cx="308.0" cy="339.2"/>
<circle class="w" r="4.7" cx="308.1" cy="339.3"/>
<circle class="w" r="4.7" cx="308.4" cy="339.3"/>
<circle class="w" r="4.7" cx="308.6" cy="339.3"/>
<circle class="w" r="4.7" cx="308.9" cy="339.4"/>
<circle class="w" r="4.7" cx="309.3" cy="339.5"/>
<circle class="w" r="4.7" cx="309.5" cy="339.5"/>
<circle class="w" r="4.7" cx="310.2" cy="339.6"/>
<circle class="w" r="4.7" cx="311.4" cy="339.8"/>
<circle class="w" r="4.7" cx="311.5" cy="339.8"/>
<circle class="w" r="4.7" cx="312.4" cy="339.9"/>
<circle class="w" r="4.7" cx="312.7" cy="339.9"/>
<circle class="w" r="4.7" cx="313.0" cy="340.0"/>
<circle class="w" r="4.7" cx="313.2" cy="340.0"/>
<circle class="w" r="4.7" cx="314.4" cy="340.2"/>
<circle class="w" r="4.7" cx="316.7" cy="340.5"/>
<circle class="w" r="4.7" cx="317.2" cy="340.6"/>
<circle class="w" r="4.7" cx="317.4" cy="340.6"/>
<circle class="w" r="4.7" cx="317.8" cy="340.6"/>
<circle class="w" r="4.7" cx="318.0" cy="340.6"/>
<circle class="w" r="4.7" cx="318.6" cy="340.7"/>
<circle class="w" r="4.7" cx="318.8" cy="340.7"/>
<circle class="w" r="4.7" cx="320.4" cy="340.9"/>
<circle class="w" r="4.7" cx="320.8" cy="341.0"/>
<circle class="w" r="4.7" cx="321.1" cy="341.0"/>
<circle class="w" r="4.7" cx="321.4" cy="341.1"/>
<circle class="w" r="4.7" cx="322.3" cy="341.2"/>
<circle class="w" r="4.7" cx="323.6" cy="341.3"/>
<circle class="w" r="4.7" cx="326.7" cy="341.6"/>
<circle class="w" r="4.7" cx="327.1" cy="341.7"/>
<circle class="w" r="4.7" cx="327.3" cy="341.7"/>
<circle class="w" r="4.7" cx="327.9" cy="341.7"/>
<circle class="w" r="4.7" cx="328.1" cy="341.8"/>
<circle class="w" r="4.7" cx="328.2" cy="341.8"/>
<circle class="w" r="4.7" cx="328.5" cy="341.8"/>
<circle class="w" r="4.7" cx="328.6" cy="341.8"/>
<circle class="w" r="4.7" cx="331.1" cy="342.0"/>
<circle class="w" r="4.7" cx="338.2" cy="342.6"/>
<circle class="w" r="4.7" cx="350.3" cy="343.4"/>
<circle class="w" r="4.7" cx="397.8" cy="345.0"/>
<circle class="w" r="4.7" cx="401.4" cy="345.1"/>
<circle class="w" r="4.7" cx="427.4" cy="345.4"/>
<circle class="w" r="4.7" cx="460.9" cy="345.6"/>
</g>
<g>
<text class="tk ty" text-anchor="end" x="53.6" y="350.8">0</text>
<text class="tk ty" text-anchor="end" x="53.6" y="308.5">5</text>
<text class="tk ty" text-anchor="end" x="53.6" y="266.2">10</text>
<text class="tk ty" text-anchor="end" x="53.6" y="223.9">15</text>
<text class="tk ty" text-anchor="end" x="53.6" y="181.6">20</text>
<text class="tk ty" text-anchor="end" x="53.6" y="139.3">25</text>
<text class="tk ty" text-anchor="end" x="53.6" y="97.0">30</text>
<text class="tk ty" text-anchor="end" x="53.6" y="54.7">35</text>
<text class="tk ty" text-anchor="end" x="53.6" y="12.4">40</text>
<text class="tk" text-anchor="middle" x="82.0" y="382.4">0</text>
<text class="tk" text-anchor="middle" x="144.9" y="382.4">500</text>
<text class="tk" text-anchor="middle" x="207.0" y="382.4">1,000</text>
<text class="tk" text-anchor="middle" x="268.6" y="382.4">1,500</text>
<text class="tk" text-anchor="middle" x="332.1" y="382.4">2,000</text>
<text class="tk" text-anchor="middle" x="396.4" y="382.4">2,500</text>
<text class="tk" text-anchor="middle" x="457.0" y="382.4">3,000</text>
<text class="tk" text-anchor="middle" x="518.1" y="382.4">3,500</text>
<text class="tk" text-anchor="middle" x="577.7" y="382.4">4,000</text>
</g>
<text class="an" x="163.8" y="100.5" textLength="34.2" lengthAdjust="spacingAndGlyphs">With</text>
<text class="an" x="202.6" y="100.5" textLength="76" lengthAdjust="spacingAndGlyphs">pulmonary</text>
<text class="an" x="283.2" y="100.5" textLength="52.4" lengthAdjust="spacingAndGlyphs">disease</text>
<text class="an" x="79.2" y="282.6" textLength="58.2" lengthAdjust="spacingAndGlyphs">Without</text>
<text class="an" x="78.5" y="304.5" textLength="76" lengthAdjust="spacingAndGlyphs">pulmonary</text>
<text class="an" x="160.0" y="304.4" textLength="52.3" lengthAdjust="spacingAndGlyphs">disease</text>
<text class="yt" transform="translate(16.7 316.9) rotate(-90)" textLength="109.0" lengthAdjust="spacingAndGlyphs">Prethreshold</text>
<text class="yt" transform="translate(16.7 203.3) rotate(-90)" textLength="36.2" lengthAdjust="spacingAndGlyphs">type</text>
<text class="yt" transform="translate(16.7 161.6) rotate(-90)" textLength="9.4" lengthAdjust="spacingAndGlyphs">1</text>
<text class="yt" transform="translate(16.7 147.0) rotate(-90)" textLength="38.8" lengthAdjust="spacingAndGlyphs">ROP</text>
<text class="yt" transform="translate(16.7 104.0) rotate(-90)" textLength="27.8" lengthAdjust="spacingAndGlyphs">risk</text>
<text class="yt" transform="translate(16.7 72.2) rotate(-90)" textLength="29.2" lengthAdjust="spacingAndGlyphs">(%)</text>
<text class="xt" x="243.2" y="409.7" textLength="129" lengthAdjust="spacingAndGlyphs">Birth weight (g)</text>
</svg>
</body></html>
